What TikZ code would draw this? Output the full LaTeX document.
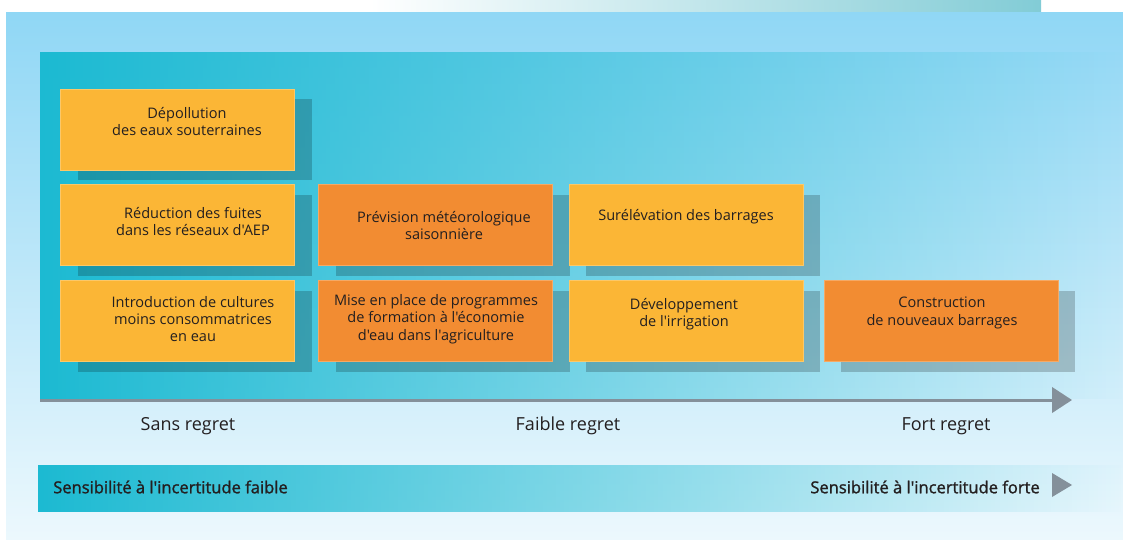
\documentclass[tikz,border=0pt]{standalone}
\usepackage{fontspec}
\setmainfont{Open Sans}[Ligatures=TeXOff]
\newfontfamily\bandfont{Open Sans}[Ligatures=TeXOff,FakeBold=1.4]
\usetikzlibrary{arrows.meta,shadows,fadings}

\definecolor{skyblue}{RGB}{144,215,245}
\definecolor{skypale}{RGB}{236,248,253}
\definecolor{tealdeep}{RGB}{28,186,210}
\definecolor{stripteal}{RGB}{130,204,214}
\definecolor{boxyellow}{RGB}{251,182,54}
\definecolor{boxorange}{RGB}{242,140,50}
\definecolor{axisgrey}{RGB}{132,144,154}
\definecolor{inktext}{RGB}{35,31,32}

\begin{document}
\begin{tikzpicture}[x=0.75pt,y=-0.75pt,
    measure/.style={minimum width=175.5pt,minimum height=60.75pt,inner sep=0pt,
      fill=#1,draw=#1!75!white,line width=.6pt,
      drop shadow={shadow xshift=12.75pt,shadow yshift=-7.5pt,fill=black,opacity=.2}},
    boxtext/.style={font=\fontsize{10.9}{13}\selectfont,align=center,text=inktext,inner sep=0pt},
    regretlbl/.style={font=\fontsize{13.5}{16}\selectfont,text=inktext,inner sep=0pt},
    senslbl/.style={font=\bandfont\fontsize{12.4}{14}\selectfont,text=inktext,inner sep=0pt},
    axisline/.style={draw=axisgrey,line width=2.25pt,-{Triangle[length=15pt,width=19pt]}}]
\useasboundingbox (0,0) rectangle (1123,539);

%Background
\fill [white] (0,0) rectangle (1123,539);
\shade [left color=white,right color=stripteal] (370,0) rectangle (1041,12);
\shade [top color=skyblue,bottom color=skypale] (6,12) rectangle (1123,539);
%Inner panel
\fill [tealdeep,path fading=east] (40,52) rectangle (1123,399);
%Bottom band
\fill [tealdeep,path fading=east] (39,465) rectangle (1123,512);

%Measures, column 1
\node [measure=boxyellow] (m11) at (177.5,129.5) {};
\node [measure=boxyellow] (m21) at (177.5,225) {};
\node [measure=boxyellow] (m31) at (177.5,321) {};
%Measures, column 2
\node [measure=boxorange] (m22) at (435.5,225) {};
\node [measure=boxorange] (m32) at (435.5,321) {};
%Measures, column 3
\node [measure=boxyellow] (m23) at (686,225) {};
\node [measure=boxyellow] (m33) at (686,321) {};
%Measures, column 4
\node [measure=boxorange] (m34) at (941,321) {};

% Text Node
\node [boxtext] (t11) at (187,121.5) {Dépollution\\des eaux souterraines};
% Text Node
\node [boxtext] (t21) at (193,221.5) {Réduction des fuites\\dans les réseaux d'AEP};
% Text Node
\node [boxtext] (t31) at (193,319) {Introduction de cultures\\moins consommatrices\\en eau};
% Text Node
\node [boxtext] (t22) at (444,225.5) {Prévision météorologique\\saisonnière};
% Text Node
\node [boxtext] (t32) at (436,319) {Mise en place de programmes\\de formation à l'économie\\d'eau dans l'agriculture};
% Text Node
\node [boxtext] (t23) at (686,217) {Surélévation des barrages};
% Text Node
\node [boxtext] (t33) at (684,314.5) {Développement\\de l'irrigation};
% Text Node
\node [boxtext] (t34) at (942,313) {Construction\\de nouveaux barrages};

%Regret axis
\coordinate (axfrom) at (40,400);
\coordinate (axto) at (1072,400);
\draw [axisline] (axfrom) -- (axto);

% Text Node
\node [regretlbl] (sans) at (188,426) {Sans regret};
% Text Node
\node [regretlbl] (faible) at (568,426) {Faible regret};
% Text Node
\node [regretlbl] (fort) at (946,426) {Fort regret};

% Text Node
\node [senslbl,anchor=west] (sfaible) at (53,487) {Sensibilité à l'incertitude faible};
% Text Node
\node [senslbl,anchor=east] (sforte) at (1040,487) {Sensibilité à l'incertitude forte};
%Band arrowhead
\fill [axisgrey] (1052,473) -- (1072,485) -- (1052,497) -- cycle;

\end{tikzpicture}
\end{document}
